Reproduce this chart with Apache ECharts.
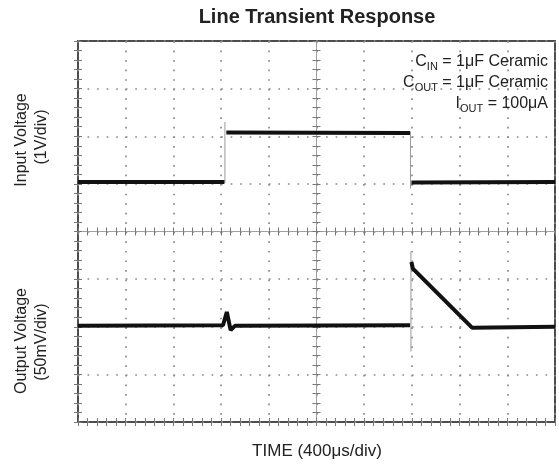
<!DOCTYPE html>
<html>
<head>
<meta charset="utf-8">
<script src="https://cdn.jsdelivr.net/npm/echarts@6/dist/echarts.min.js"></script>
<style>
  html, body { margin: 0; padding: 0; background: #fff; }
  #chart { width: 559px; height: 466px; }
</style>
</head>
<body>
<div id="chart"></div>
<script>
// time in scope divisions (0..10), level in divisions from bottom (0..8)
const inputTime = [0, 3.07, 3.09, 3.11, 6.96, 6.97, 6.99, 10]
const inputLevel = [5.04, 5.04, null, 6.08, 6.07, null, 5.03, 5.04]

const outputTime = [0, 3.04, 3.12, 3.2, 3.29, 6.96, 6.98, 6.99, 7.02, 8.26, 10]
const outputLevel = [2.02, 2.03, 2.31, 1.93, 2.02, 2.03, null, 3.36, 3.22, 1.98, 2.0]

// thin fast edges
const edgeTime = [3.08, 3.08, null, 6.97, 6.97, null, 6.98, 6.98]
const edgeLevel = [5.02, 6.3, null, 6.1, 4.9, null, 3.58, 1.48]

const notes = [
  'C{s|IN} = 1μF Ceramic',
  'C{s|OUT} = 1μF Ceramic',
  'I{s|OUT} = 100μA'
]

const zip = (t, v) => t.map((x, i) => [x, v[i]])

const FONT = 'Liberation Sans, Arial, sans-serif'
const GRID = { left: 78, right: 4, top: 41, bottom: 44 }
const plotW = 559 - GRID.left - GRID.right
const plotH = 466 - GRID.top - GRID.bottom

const dotted = { color: '#8a8a8a', width: 1.7, type: [1.7, 7.84] }
const tickStyle = { color: '#777', width: 1 }
const centerLine = { show: true, lineStyle: { color: '#a0a0a0', width: 1 } }

// one helper for the scope's tick rows
const scopeAxis = (kind, extra) => Object.assign({
  type: 'value',
  min: 0,
  max: kind === 'x' ? 10 : 8,
  interval: 1,
  axisLabel: { show: false },
  axisLine: { show: false },
  axisTick: { show: true, inside: true, length: 4, lineStyle: tickStyle },
  minorTick: { show: true, splitNumber: 5, length: 4, lineStyle: tickStyle },
  splitLine: { show: false }
}, extra)

const chart = echarts.init(document.getElementById('chart'))

chart.setOption({
  animation: false,
  backgroundColor: '#fff',
  grid: Object.assign({ show: true, borderColor: '#4d4d4d', borderWidth: 2 }, GRID),
  xAxis: [
    scopeAxis('x', { position: 'bottom', splitLine: { show: true, lineStyle: dotted } }),
    scopeAxis('x', { position: 'top' }),
    scopeAxis('x', { position: 'bottom', offset: -plotH / 2, axisLine: centerLine }),
    scopeAxis('x', { position: 'bottom', offset: -plotH / 2,
      axisTick: { show: true, inside: false, length: 4, lineStyle: tickStyle } })
  ],
  yAxis: [
    scopeAxis('y', { position: 'left', splitLine: { show: true, lineStyle: dotted } }),
    scopeAxis('y', { position: 'right' }),
    scopeAxis('y', { position: 'left', offset: -plotW / 2, axisLine: centerLine }),
    scopeAxis('y', { position: 'left', offset: -plotW / 2,
      axisTick: { show: true, inside: false, length: 4, lineStyle: tickStyle } })
  ],
  series: [
    {
      type: 'line',
      data: zip(edgeTime, edgeLevel),
      showSymbol: false,
      lineStyle: { color: '#9a9a9a', width: 1 },
      z: 3
    },
    {
      type: 'line',
      data: zip(inputTime, inputLevel),
      showSymbol: false,
      lineStyle: { color: '#111', width: 4 },
      z: 4
    },
    {
      type: 'line',
      data: zip(outputTime, outputLevel),
      showSymbol: false,
      lineStyle: { color: '#111', width: 4 },
      z: 4
    }
  ],
  graphic: [
    {
      type: 'text', x: 317, y: 17,
      style: { text: 'Line Transient Response', font: 'bold 20px ' + FONT, fill: '#222',
        align: 'center', verticalAlign: 'middle' }
    },
    {
      type: 'text', x: 317, y: 451,
      style: { text: 'TIME (400μs/div)', font: '17px ' + FONT, fill: '#222',
        align: 'center', verticalAlign: 'middle' }
    },
    {
      type: 'text', x: 22, y: 140, rotation: Math.PI / 2,
      style: { text: 'Input Voltage', font: '16px ' + FONT, fill: '#222',
        align: 'center', verticalAlign: 'middle' }
    },
    {
      type: 'text', x: 42, y: 137, rotation: Math.PI / 2,
      style: { text: '(1V/div)', font: '16px ' + FONT, fill: '#222',
        align: 'center', verticalAlign: 'middle' }
    },
    {
      type: 'text', x: 22, y: 341, rotation: Math.PI / 2,
      style: { text: 'Output Voltage', font: '16px ' + FONT, fill: '#222',
        align: 'center', verticalAlign: 'middle' }
    },
    {
      type: 'text', x: 42, y: 342, rotation: Math.PI / 2,
      style: { text: '(50mV/div)', font: '16px ' + FONT, fill: '#222',
        align: 'center', verticalAlign: 'middle' }
    }
  ].concat(notes.map((t, i) => ({
    type: 'text', x: 548, y: 62 + i * 21, z: 10,
    style: {
      text: t, font: '16px ' + FONT, fill: '#222', lineHeight: 20,
      align: 'right', verticalAlign: 'middle',
      rich: { s: { fontSize: 11, fontFamily: FONT, lineHeight: 11, verticalAlign: 'bottom', fill: '#222' } }
    }
  })))
})
</script>
</body>
</html>
